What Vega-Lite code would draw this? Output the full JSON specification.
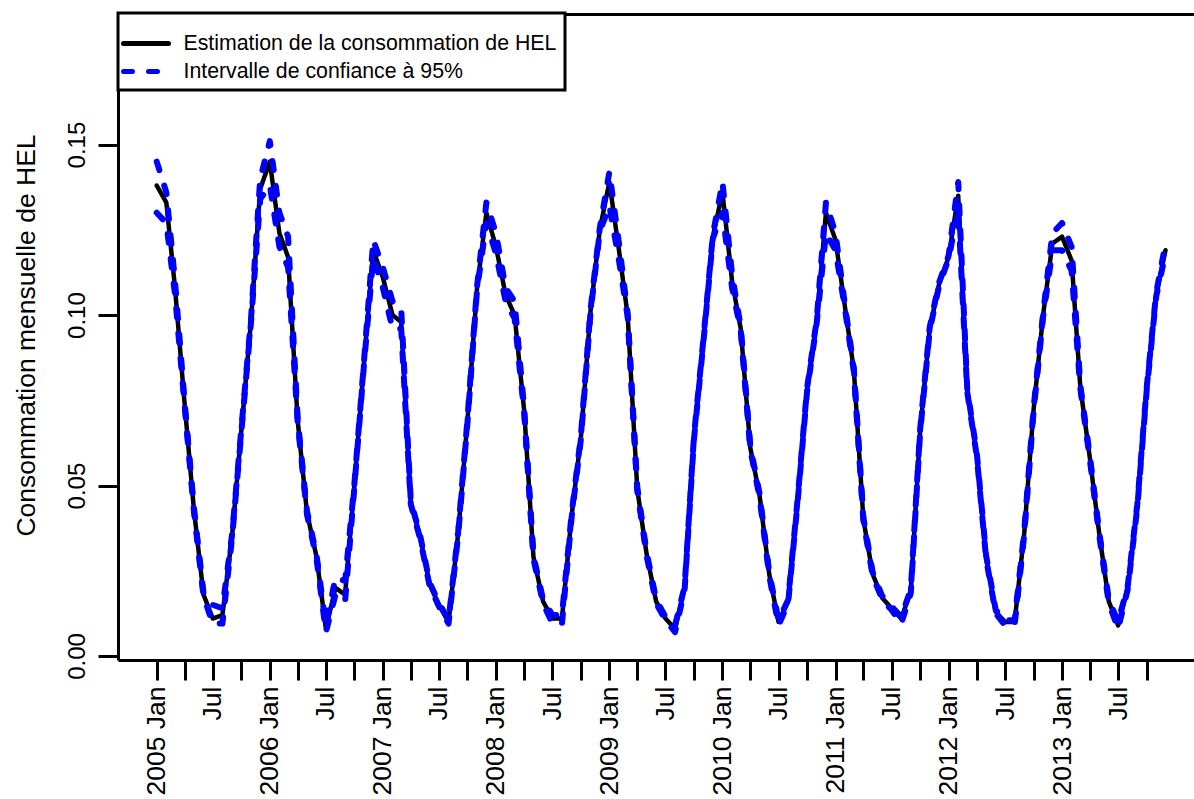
{
"$schema": "https://vega.github.io/schema/vega-lite/v6.json",
"autosize": {"type": "none"},
"padding": {"left": 118, "top": 14, "right": 0, "bottom": 139},
"width": 1076,
"height": 646,
"background": "white",
"config": {"view": {"stroke": null}, "font": "Liberation Sans"},
"data": {"format": {"parse": {"d": "date:'%Y-%m'"}}, "values": [
{"d":"2005-01","est":0.138,"lo":0.130,"hi":0.145},
{"d":"2005-02","est":0.133,"lo":0.127,"hi":0.136},
{"d":"2005-03","est":0.108,"lo":0.106,"hi":0.110},
{"d":"2005-04","est":0.074,"lo":0.0735,"hi":0.0745},
{"d":"2005-05","est":0.043,"lo":0.0425,"hi":0.0435},
{"d":"2005-06","est":0.018,"lo":0.0175,"hi":0.0185},
{"d":"2005-07","est":0.011,"lo":0.0095,"hi":0.015},
{"d":"2005-08","est":0.012,"lo":0.0095,"hi":0.014},
{"d":"2005-09","est":0.035,"lo":0.0345,"hi":0.0355},
{"d":"2005-10","est":0.066,"lo":0.0655,"hi":0.0665},
{"d":"2005-11","est":0.098,"lo":0.0975,"hi":0.0985},
{"d":"2005-12","est":0.137,"lo":0.134,"hi":0.140},
{"d":"2006-01","est":0.145,"lo":0.138,"hi":0.151},
{"d":"2006-02","est":0.124,"lo":0.120,"hi":0.130},
{"d":"2006-03","est":0.117,"lo":0.114,"hi":0.123},
{"d":"2006-04","est":0.069,"lo":0.0685,"hi":0.0695},
{"d":"2006-05","est":0.042,"lo":0.0415,"hi":0.0425},
{"d":"2006-06","est":0.029,"lo":0.0285,"hi":0.0295},
{"d":"2006-07","est":0.008,"lo":0.007,"hi":0.009},
{"d":"2006-08","est":0.020,"lo":0.018,"hi":0.023},
{"d":"2006-09","est":0.018,"lo":0.016,"hi":0.022},
{"d":"2006-10","est":0.050,"lo":0.0495,"hi":0.0505},
{"d":"2006-11","est":0.086,"lo":0.0855,"hi":0.0865},
{"d":"2006-12","est":0.119,"lo":0.117,"hi":0.122},
{"d":"2007-01","est":0.111,"lo":0.108,"hi":0.114},
{"d":"2007-02","est":0.100,"lo":0.096,"hi":0.104},
{"d":"2007-03","est":0.098,"lo":0.096,"hi":0.102},
{"d":"2007-04","est":0.045,"lo":0.0445,"hi":0.0455},
{"d":"2007-05","est":0.035,"lo":0.0345,"hi":0.0355},
{"d":"2007-06","est":0.021,"lo":0.0205,"hi":0.0215},
{"d":"2007-07","est":0.015,"lo":0.0145,"hi":0.0155},
{"d":"2007-08","est":0.010,"lo":0.0095,"hi":0.0105},
{"d":"2007-09","est":0.036,"lo":0.0355,"hi":0.0365},
{"d":"2007-10","est":0.069,"lo":0.0685,"hi":0.0695},
{"d":"2007-11","est":0.108,"lo":0.1075,"hi":0.1085},
{"d":"2007-12","est":0.130,"lo":0.127,"hi":0.133},
{"d":"2008-01","est":0.120,"lo":0.118,"hi":0.124},
{"d":"2008-02","est":0.106,"lo":0.104,"hi":0.108},
{"d":"2008-03","est":0.100,"lo":0.099,"hi":0.104},
{"d":"2008-04","est":0.072,"lo":0.0715,"hi":0.0725},
{"d":"2008-05","est":0.029,"lo":0.0285,"hi":0.0295},
{"d":"2008-06","est":0.016,"lo":0.0155,"hi":0.0165},
{"d":"2008-07","est":0.011,"lo":0.0095,"hi":0.012},
{"d":"2008-08","est":0.011,"lo":0.0095,"hi":0.012},
{"d":"2008-09","est":0.041,"lo":0.0405,"hi":0.0415},
{"d":"2008-10","est":0.064,"lo":0.0635,"hi":0.0645},
{"d":"2008-11","est":0.101,"lo":0.1005,"hi":0.1015},
{"d":"2008-12","est":0.125,"lo":0.1245,"hi":0.1255},
{"d":"2009-01","est":0.139,"lo":0.132,"hi":0.142},
{"d":"2009-02","est":0.119,"lo":0.116,"hi":0.121},
{"d":"2009-03","est":0.100,"lo":0.0995,"hi":0.1005},
{"d":"2009-04","est":0.049,"lo":0.0485,"hi":0.0495},
{"d":"2009-05","est":0.030,"lo":0.0295,"hi":0.0305},
{"d":"2009-06","est":0.016,"lo":0.0155,"hi":0.0165},
{"d":"2009-07","est":0.011,"lo":0.0105,"hi":0.0115},
{"d":"2009-08","est":0.008,"lo":0.007,"hi":0.009},
{"d":"2009-09","est":0.020,"lo":0.0195,"hi":0.0205},
{"d":"2009-10","est":0.064,"lo":0.0635,"hi":0.0645},
{"d":"2009-11","est":0.093,"lo":0.0925,"hi":0.0935},
{"d":"2009-12","est":0.123,"lo":0.1225,"hi":0.1235},
{"d":"2010-01","est":0.136,"lo":0.130,"hi":0.139},
{"d":"2010-02","est":0.110,"lo":0.108,"hi":0.112},
{"d":"2010-03","est":0.096,"lo":0.0955,"hi":0.0965},
{"d":"2010-04","est":0.061,"lo":0.0605,"hi":0.0615},
{"d":"2010-05","est":0.047,"lo":0.0465,"hi":0.0475},
{"d":"2010-06","est":0.024,"lo":0.0235,"hi":0.0245},
{"d":"2010-07","est":0.010,"lo":0.009,"hi":0.0105},
{"d":"2010-08","est":0.016,"lo":0.0155,"hi":0.0165},
{"d":"2010-09","est":0.046,"lo":0.0455,"hi":0.0465},
{"d":"2010-10","est":0.078,"lo":0.0775,"hi":0.0785},
{"d":"2010-11","est":0.098,"lo":0.0975,"hi":0.0985},
{"d":"2010-12","est":0.130,"lo":0.124,"hi":0.133},
{"d":"2011-01","est":0.122,"lo":0.119,"hi":0.124},
{"d":"2011-02","est":0.102,"lo":0.1015,"hi":0.1025},
{"d":"2011-03","est":0.084,"lo":0.0835,"hi":0.0845},
{"d":"2011-04","est":0.040,"lo":0.0395,"hi":0.0405},
{"d":"2011-05","est":0.024,"lo":0.0235,"hi":0.0245},
{"d":"2011-06","est":0.017,"lo":0.0165,"hi":0.0175},
{"d":"2011-07","est":0.014,"lo":0.0135,"hi":0.0145},
{"d":"2011-08","est":0.011,"lo":0.0095,"hi":0.0115},
{"d":"2011-09","est":0.019,"lo":0.0185,"hi":0.0195},
{"d":"2011-10","est":0.066,"lo":0.0655,"hi":0.0665},
{"d":"2011-11","est":0.096,"lo":0.0955,"hi":0.0965},
{"d":"2011-12","est":0.109,"lo":0.1085,"hi":0.1095},
{"d":"2012-01","est":0.117,"lo":0.1165,"hi":0.1175},
{"d":"2012-02","est":0.135,"lo":0.131,"hi":0.139},
{"d":"2012-03","est":0.078,"lo":0.0775,"hi":0.0785},
{"d":"2012-04","est":0.059,"lo":0.0585,"hi":0.0595},
{"d":"2012-05","est":0.029,"lo":0.0285,"hi":0.0295},
{"d":"2012-06","est":0.013,"lo":0.0125,"hi":0.0135},
{"d":"2012-07","est":0.010,"lo":0.009,"hi":0.0105},
{"d":"2012-08","est":0.010,"lo":0.009,"hi":0.0105},
{"d":"2012-09","est":0.036,"lo":0.0355,"hi":0.0365},
{"d":"2012-10","est":0.072,"lo":0.0715,"hi":0.0725},
{"d":"2012-11","est":0.100,"lo":0.0995,"hi":0.1005},
{"d":"2012-12","est":0.121,"lo":0.119,"hi":0.124},
{"d":"2013-01","est":0.123,"lo":0.119,"hi":0.127},
{"d":"2013-02","est":0.116,"lo":0.113,"hi":0.120},
{"d":"2013-03","est":0.079,"lo":0.0785,"hi":0.0795},
{"d":"2013-04","est":0.058,"lo":0.0575,"hi":0.0585},
{"d":"2013-05","est":0.036,"lo":0.0355,"hi":0.0365},
{"d":"2013-06","est":0.016,"lo":0.0155,"hi":0.0165},
{"d":"2013-07","est":0.009,"lo":0.008,"hi":0.010},
{"d":"2013-08","est":0.020,"lo":0.0195,"hi":0.0205},
{"d":"2013-09","est":0.044,"lo":0.0435,"hi":0.0445},
{"d":"2013-10","est":0.078,"lo":0.0775,"hi":0.0785},
{"d":"2013-11","est":0.106,"lo":0.1055,"hi":0.1065},
{"d":"2013-12","est":0.119,"lo":0.118,"hi":0.121}
]},
"resolve": {"axis": {"x": "independent"}},
"layer": [
{
"mark": {"type": "line", "strokeWidth": 4.5, "strokeJoin": "round", "strokeCap": "round"},
"encoding": {
"x": {"field": "d", "type": "temporal", "title": null,
"scale": {"domain": [{"year": 2004, "month": 8, "date": 29}, {"year": 2014, "month": 3, "date": 3}], "nice": false},
"axis": {"orient": "bottom", "grid": false, "title": null,
"values": [{"year":2005,"month":1},{"year":2005,"month":4},{"year":2005,"month":7},{"year":2005,"month":10},
{"year":2006,"month":1},{"year":2006,"month":4},{"year":2006,"month":7},{"year":2006,"month":10},
{"year":2007,"month":1},{"year":2007,"month":4},{"year":2007,"month":7},{"year":2007,"month":10},
{"year":2008,"month":1},{"year":2008,"month":4},{"year":2008,"month":7},{"year":2008,"month":10},
{"year":2009,"month":1},{"year":2009,"month":4},{"year":2009,"month":7},{"year":2009,"month":10},
{"year":2010,"month":1},{"year":2010,"month":4},{"year":2010,"month":7},{"year":2010,"month":10},
{"year":2011,"month":1},{"year":2011,"month":4},{"year":2011,"month":7},{"year":2011,"month":10},
{"year":2012,"month":1},{"year":2012,"month":4},{"year":2012,"month":7},{"year":2012,"month":10},
{"year":2013,"month":1},{"year":2013,"month":4},{"year":2013,"month":7},{"year":2013,"month":10}],
"labelExpr": "month(datum.value) == 0 ? timeFormat(datum.value, '%Y') + ' Jan' : (month(datum.value) == 6 ? 'Jul' : '')",
"labelAngle": -90, "labelAlign": "right", "labelBaseline": "middle",
"labelFont": "Liberation Sans", "labelFontSize": 26.5, "labelColor": "black",
"labelPadding": 6, "labelOverlap": false, "labelFlush": false, "labelBound": false,
"tickSize": 20, "tickWidth": 3, "tickColor": "black",
"domainColor": "black", "domainWidth": 3}},
"y": {"field": "est", "type": "quantitative", "title": "Consommation mensuelle de HEL",
"scale": {"domain": [-0.00117, 0.1883], "nice": false, "zero": false},
"axis": {"grid": false, "values": [0, 0.05, 0.1, 0.15], "format": ".2f",
"labelAngle": -90, "labelAlign": "center", "labelBaseline": "alphabetic",
"labelFont": "Liberation Sans", "labelFontSize": 24, "labelColor": "black", "labelPadding": 14,
"tickSize": 20, "tickWidth": 3, "tickColor": "black",
"domainColor": "black", "domainWidth": 3,
"titleFont": "Liberation Sans", "titleFontSize": 26.5, "titleFontWeight": "normal", "titleColor": "black",
"titleAngle": -90, "titleAlign": "center", "titleBaseline": "alphabetic", "titleX": -84, "titleY": 321}},
"color": {"datum": "Estimation de la consommation de HEL", "type": "nominal",
"scale": {"domain": ["Estimation de la consommation de HEL", "Intervalle de confiance à 95%"], "range": ["#000000", "#0000ff"]},
"legend": {"orient": "none", "legendX": 0, "legendY": -1, "direction": "vertical",
"title": " ", "titleFontSize": 4, "titlePadding": 1,
"symbolType": "M-1.5,0H1.5", "symbolSize": 900, "symbolStrokeWidth": 5, "symbolOffset": 2.5,
"labelFont": "Liberation Sans", "labelFontSize": 21.3, "labelColor": "black", "labelOffset": 20, "labelLimit": 0,
"padding": 8, "rowPadding": 0, "strokeColor": "black", "fillColor": "white",
"encode": {"legend": {"update": {"strokeWidth": {"value": 3}}}, "symbols": {"update": {"strokeCap": {"value": "round"}, "fill": {"value": "transparent"}}}}}},
"strokeDash": {"datum": "Estimation de la consommation de HEL", "type": "nominal",
"scale": {"domain": ["Estimation de la consommation de HEL", "Intervalle de confiance à 95%"], "range": [[1, 0], [9, 16]]},
"legend": {"orient": "none", "legendX": 0, "legendY": -1, "direction": "vertical",
"title": " ", "titleFontSize": 4, "titlePadding": 1,
"symbolType": "M-1.5,0H1.5", "symbolSize": 900, "symbolStrokeWidth": 5, "symbolOffset": 2.5,
"labelFont": "Liberation Sans", "labelFontSize": 21.3, "labelColor": "black", "labelOffset": 20, "labelLimit": 0,
"padding": 8, "rowPadding": 0, "strokeColor": "black", "fillColor": "white",
"encode": {"legend": {"update": {"strokeWidth": {"value": 3}}}, "symbols": {"update": {"strokeCap": {"value": "round"}, "fill": {"value": "transparent"}}}}}}
}
},
{
"transform": [{"fold": ["lo", "hi"], "as": ["bound", "v"]}],
"mark": {"type": "line", "strokeWidth": 6, "strokeCap": "round", "strokeJoin": "round"},
"encoding": {
"x": {"field": "d", "type": "temporal", "title": null,
"axis": {"orient": "top", "grid": false, "title": null, "ticks": false, "labels": false, "domain": true, "domainColor": "black", "domainWidth": 3}},
"y": {"field": "v", "type": "quantitative", "title": "Consommation mensuelle de HEL"},
"detail": {"field": "bound", "type": "nominal"},
"color": {"datum": "Intervalle de confiance à 95%", "type": "nominal"},
"strokeDash": {"datum": "Intervalle de confiance à 95%", "type": "nominal"}
}
}
]
}
